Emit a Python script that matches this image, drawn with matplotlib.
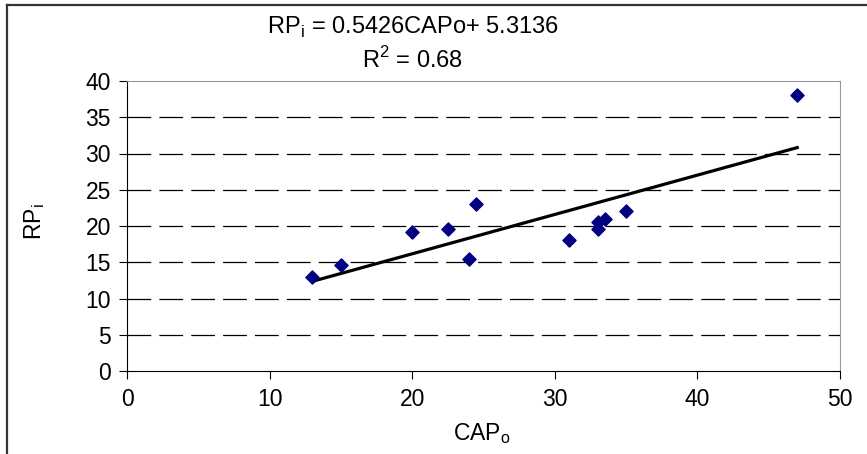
import matplotlib.pyplot as plt
import numpy as np
from matplotlib.lines import Line2D

plt.rcParams['font.family'] = ['Liberation Sans', 'DejaVu Sans']

# values
cap_o = [13.0, 15.0, 20.0, 22.5, 24.0, 24.5, 31.0, 33.0, 33.0, 33.5, 35.0, 47.0]
rp_i = [12.9, 14.6, 19.2, 19.6, 15.5, 23.0, 18.1, 20.5, 19.6, 21.0, 22.1, 38.1]
slope = 0.5426
intercept = 5.3136
x_ticks = [0, 10, 20, 30, 40, 50]
y_ticks = [0, 5, 10, 15, 20, 25, 30, 35, 40]

W, H = 867, 454
fig = plt.figure(figsize=(W / 100, H / 100), dpi=100)
ax = fig.add_axes([127 / W, 1 - 371 / H, 713 / W, 290 / H])

# dashed grid
for yv in y_ticks[1:-1]:
    ax.axhline(yv, color='black', linewidth=0.9, dashes=(19, 6.5), zorder=1)

ax.scatter(cap_o, rp_i, marker='D', s=45, color='#000080', zorder=3)

xs = np.array([min(cap_o), max(cap_o)])
ax.plot(xs, slope * xs + intercept, color='black', linewidth=2.3, zorder=2)

ax.set_xlim(0, 50)
ax.set_ylim(0, 40)
ax.set_xticks(x_ticks)
ax.set_yticks(y_ticks)
ax.tick_params(direction='out', length=5.5, width=0.8, labelsize=16.5, color='black')
ax.tick_params(axis='x', pad=7)
ax.tick_params(axis='y', pad=6)

for side in ['top', 'right']:
    ax.spines[side].set_color('#999999')
for side in ['left', 'bottom']:
    ax.spines[side].set_color('black')

fig.text(482 / W, 1 - 434 / H, 'CAP$_\\mathregular{o}$', ha='center', va='center', fontsize=16.5)
fig.text(35 / W, 1 - 222 / H, 'RP$_\\mathregular{i}$', ha='center', va='center', rotation=90, fontsize=16.5)

fig.text(413 / W, 1 - 27 / H, 'RP$_\\mathregular{i}$ = 0.5426CAPo+ 5.3136', ha='center', va='center', fontsize=17)
fig.text(413 / W, 1 - 60 / H, 'R$^\\mathregular{2}$ = 0.68', ha='center', va='center', fontsize=17)

# outer frame (top and left only)
fig.lines.append(Line2D([7 / W, 1], [1 - 4.5 / H, 1 - 4.5 / H], transform=fig.transFigure,
                        color='#333333', linewidth=1.6))
fig.lines.append(Line2D([7 / W, 7 / W], [0, 1 - 4.5 / H], transform=fig.transFigure,
                        color='#333333', linewidth=1.6))

fig.savefig('out.png', dpi=100)
